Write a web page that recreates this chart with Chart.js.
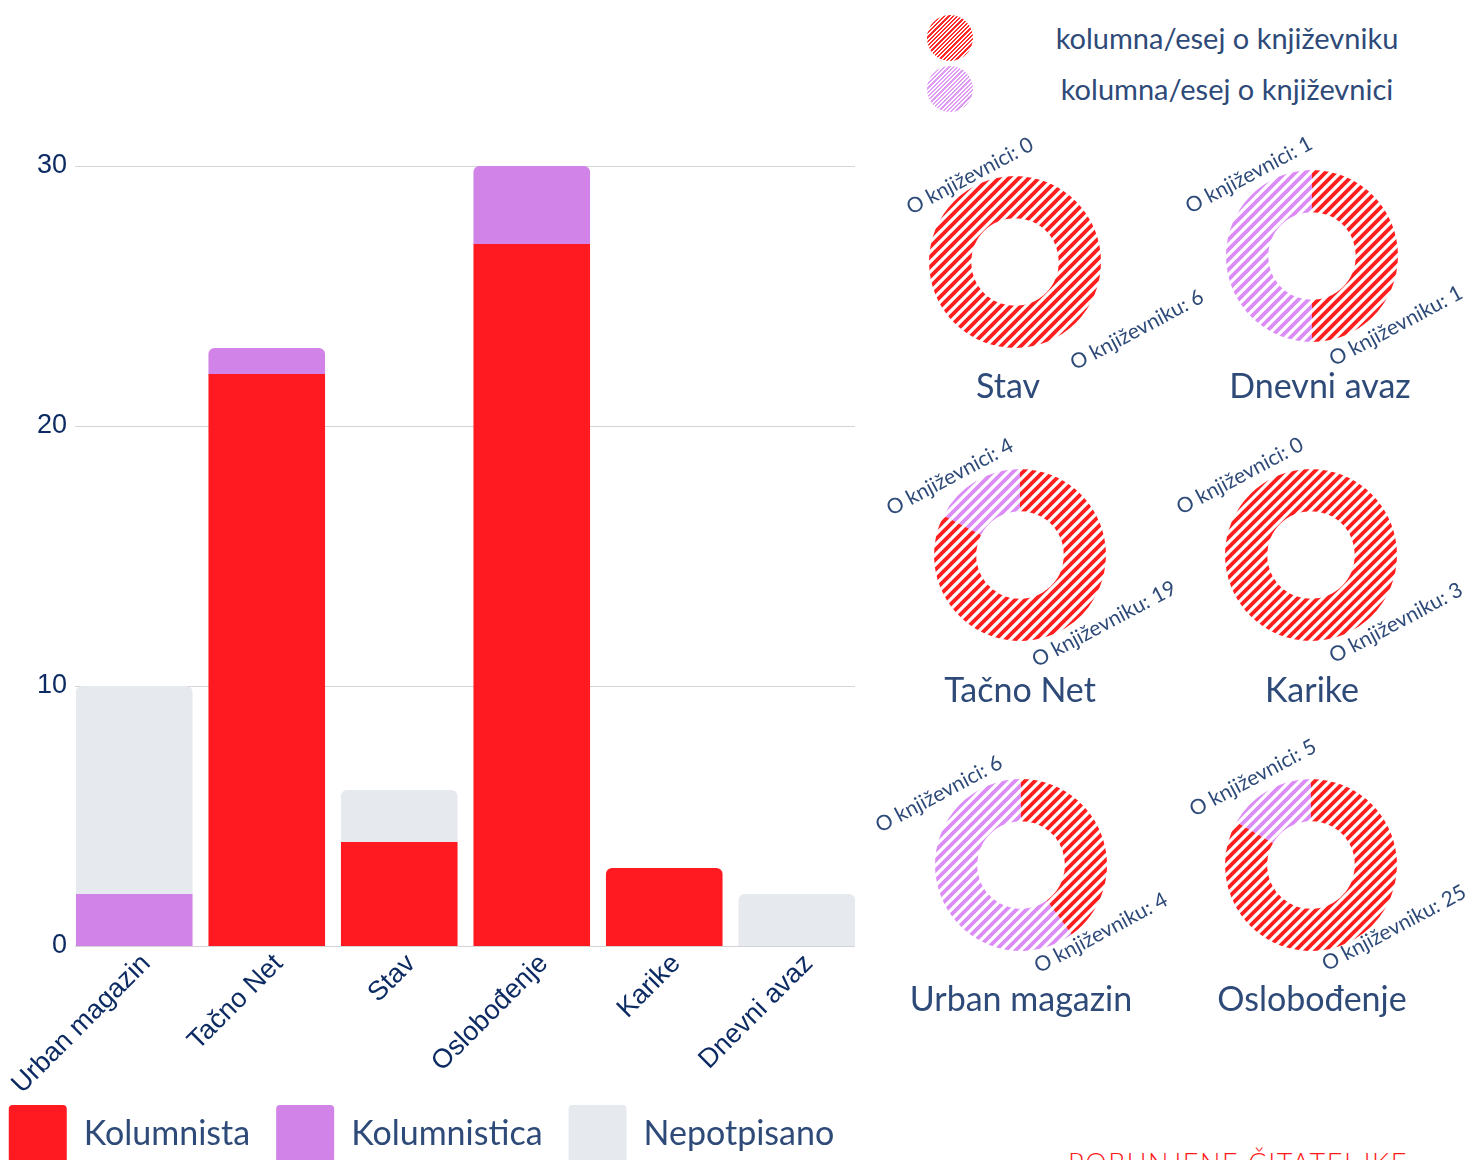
<!DOCTYPE html>
<html>
<head>
<meta charset="utf-8">
<script src="https://cdn.jsdelivr.net/npm/chart.js@4.4.0/dist/chart.umd.min.js"></script>
<style>
  body { margin:0; background:#fff; width:1471px; height:1160px; overflow:hidden; position:relative; font-family:Lato, sans-serif; }
  #barWrap { position:absolute; left:-20px; top:0; width:890px; height:1173px; }
  .dn { position:absolute; width:400px; height:320px; }
  .key { position:absolute; left:927px; width:46px; height:46px; border-radius:50%; }
  .keyTxt { position:absolute; left:1000px; width:454px; text-align:center; font-size:29px; line-height:34px; color:#2e4a78; }
  #tag { position:absolute; left:1068px; top:1146px; font-size:27px; font-weight:300; letter-spacing:1.6px; color:#ff1a1a; white-space:nowrap; }
</style>
</head>
<body>
<div id="barWrap"><canvas id="barC"></canvas></div>

<div class="key" style="top:15px;background:repeating-linear-gradient(-45deg,#ff2a2a 0 1.6px,#fff 1.6px 3px)"></div>
<div class="key" style="top:66px;background:repeating-linear-gradient(-45deg,#e09cf5 0 1.6px,#fff 1.6px 3px)"></div>
<div class="keyTxt" style="top:21px">kolumna/esej o književniku</div>
<div class="keyTxt" style="top:72px">kolumna/esej o književnici</div>

<div id="donuts"></div>
<div id="tag">POBUNJENE ČITATELJKE</div>

<script>
// --- bar chart data ---
const outlets = ['Urban magazin', 'Tačno Net', 'Stav', 'Oslobođenje', 'Karike', 'Dnevni avaz'];
const kolumnista   = [0, 22, 4, 27, 3, 0];
const kolumnistica = [2, 1, 0, 3, 0, 0];
const nepotpisano  = [8, 0, 2, 0, 0, 2];
const yTicks = [0, 10, 20, 30];

// --- donut data ---
const donutOutlets = ['Stav', 'Dnevni avaz', 'Tačno Net', 'Karike', 'Urban magazin', 'Oslobođenje'];
const oKnjizevniku = [6, 1, 19, 3, 4, 25];
const oKnjizevnici = [0, 1, 4, 0, 6, 5];

// donut placement (page px): centre, title offset, label offsets
const donutPos = [
  { cx:1015, cy:262, t:[-7,125],  a:[-45,-86], b:[122,68] },
  { cx:1312, cy:256, t:[8,131],   a:[-63,-81], b:[84,70] },
  { cx:1020, cy:555, t:[0,136],   a:[-70,-78], b:[84,69] },
  { cx:1311, cy:555, t:[1,136],   a:[-71,-79], b:[85,68] },
  { cx:1021, cy:865, t:[0,135],   a:[-82,-71], b:[80,68] },
  { cx:1311, cy:865, t:[1,135],   a:[-58,-87], b:[83,63] },
];

const NAVY = '#2e4a78';
const TICK = '#0d2b63';

// diagonal stripe fill
const hatch = (color, size, lw) => {
  const c = document.createElement('canvas');
  c.width = c.height = size;
  const g = c.getContext('2d');
  g.fillStyle = '#fff'; g.fillRect(0, 0, size, size);
  g.strokeStyle = color; g.lineWidth = lw;
  g.beginPath();
  g.moveTo(0, size); g.lineTo(size, 0);
  g.moveTo(-size / 2, size / 2); g.lineTo(size / 2, -size / 2);
  g.moveTo(size / 2, size * 1.5); g.lineTo(size * 1.5, size / 2);
  g.stroke();
  return g.createPattern(c, 'repeat');
};

// horizontal grid lines, a little inset from the plot edges
const insetGrid = {
  id:'insetGrid',
  beforeDraw(chart) {
    // let the long rotated category labels run into the legend gap
    chart.scales.x.bottom = chart.height;
  },
  beforeDatasetsDraw(chart) {
    const { ctx, chartArea, scales:{ y } } = chart;
    ctx.save();
    ctx.strokeStyle = '#d4d4d4';
    ctx.lineWidth = 1;
    yTicks.forEach(v => {
      const py = Math.round(y.getPixelForValue(v)) + 0.5;
      ctx.beginPath();
      ctx.moveTo(chartArea.left + 7, py);
      ctx.lineTo(chartArea.right - 8, py);
      ctx.stroke();
    });
    ctx.restore();
  }
};

// stacked bar chart
new Chart(document.getElementById('barC'), {
  type: 'bar',
  data: {
    labels: outlets,
    datasets: [
      { label:'Kolumnista',   data:kolumnista,   backgroundColor:'#ff1a22' },
      { label:'Kolumnistica', data:kolumnistica, backgroundColor:'#d183e8' },
      { label:'Nepotpisano',  data:nepotpisano,  backgroundColor:'#e6e9ee' },
    ]
  },
  options: {
    responsive:true, maintainAspectRatio:false, animation:false,
    layout: { padding:{ top:166, right:7 } },
    datasets: { bar: { barPercentage:0.88, categoryPercentage:1, borderRadius:6, borderSkipped:'start' } },
    plugins: {
      tooltip: { enabled:false },
      legend: {
        position:'bottom',
        labels: { boxWidth:58, boxHeight:58, padding:26, useBorderRadius:true, borderRadius:4,
                  color:NAVY, font:{ family:'Lato', size:34 } }
      }
    },
    scales: {
      x: {
        stacked:true,
        afterFit: s => { s.height = 133; },
        grid:{ display:false, drawTicks:false },
        border:{ display:false },
        ticks:{ autoSkip:false, minRotation:45, maxRotation:45, padding:2, labelOffset:12,
                color:TICK, font:{ family:'Liberation Sans', size:27 } }
      },
      y: {
        stacked:true, min:0, max:30,
        afterFit: s => { s.width = 88; },
        afterBuildTicks: s => { s.ticks = yTicks.map(v => ({ value:v })); },
        grid:{ display:false, drawTicks:false },
        border:{ display:false },
        ticks:{ padding:1, color:TICK, font:{ family:'Liberation Sans', size:27 } }
      }
    }
  },
  plugins:[insetGrid]
});

// title + rotated labels for each donut
const donutText = {
  id:'donutText',
  afterDraw(chart, args, o) {
    const arc = chart.getDatasetMeta(0).data[0];
    const { ctx } = chart;
    ctx.save();
    ctx.fillStyle = NAVY;
    ctx.textAlign = 'center';
    ctx.textBaseline = 'middle';
    ctx.font = '34px Lato';
    ctx.fillText(o.title, arc.x + o.t[0], arc.y + o.t[1]);
    ctx.font = '21px Lato';
    [[o.top, o.a], [o.bottom, o.b]].forEach(([txt, off]) => {
      ctx.save();
      ctx.translate(arc.x + off[0], arc.y + off[1]);
      ctx.rotate(-28 * Math.PI / 180);
      ctx.fillText(txt, 0, 0);
      ctx.restore();
    });
    ctx.restore();
  }
};

const redHatch = hatch('#ff1f1f', 10, 3.8);
const lilacHatch = hatch('#dc8cf6', 10, 3.8);
const host = document.getElementById('donuts');

donutOutlets.forEach((name, i) => {
  const p = donutPos[i];
  const div = document.createElement('div');
  div.className = 'dn';
  div.style.left = (p.cx - 200) + 'px';
  div.style.top = (p.cy - 160) + 'px';
  const cv = document.createElement('canvas');
  div.appendChild(cv);
  host.appendChild(div);
  new Chart(cv, {
    type:'doughnut',
    data: {
      labels:['O književniku', 'O književnici'],
      datasets:[{ data:[oKnjizevniku[i], oKnjizevnici[i]], backgroundColor:[redHatch, lilacHatch], borderWidth:0 }]
    },
    options: {
      responsive:true, maintainAspectRatio:false, animation:false,
      radius:86, cutout:'51%',
      events:[],
      plugins: {
        legend:{ display:false }, tooltip:{ enabled:false },
        donutText: {
          title:name,
          top:`O književnici: ${oKnjizevnici[i]}`,
          bottom:`O književniku: ${oKnjizevniku[i]}`,
          t:p.t, a:p.a, b:p.b
        }
      }
    },
    plugins:[donutText]
  });
});
</script>
</body>
</html>
